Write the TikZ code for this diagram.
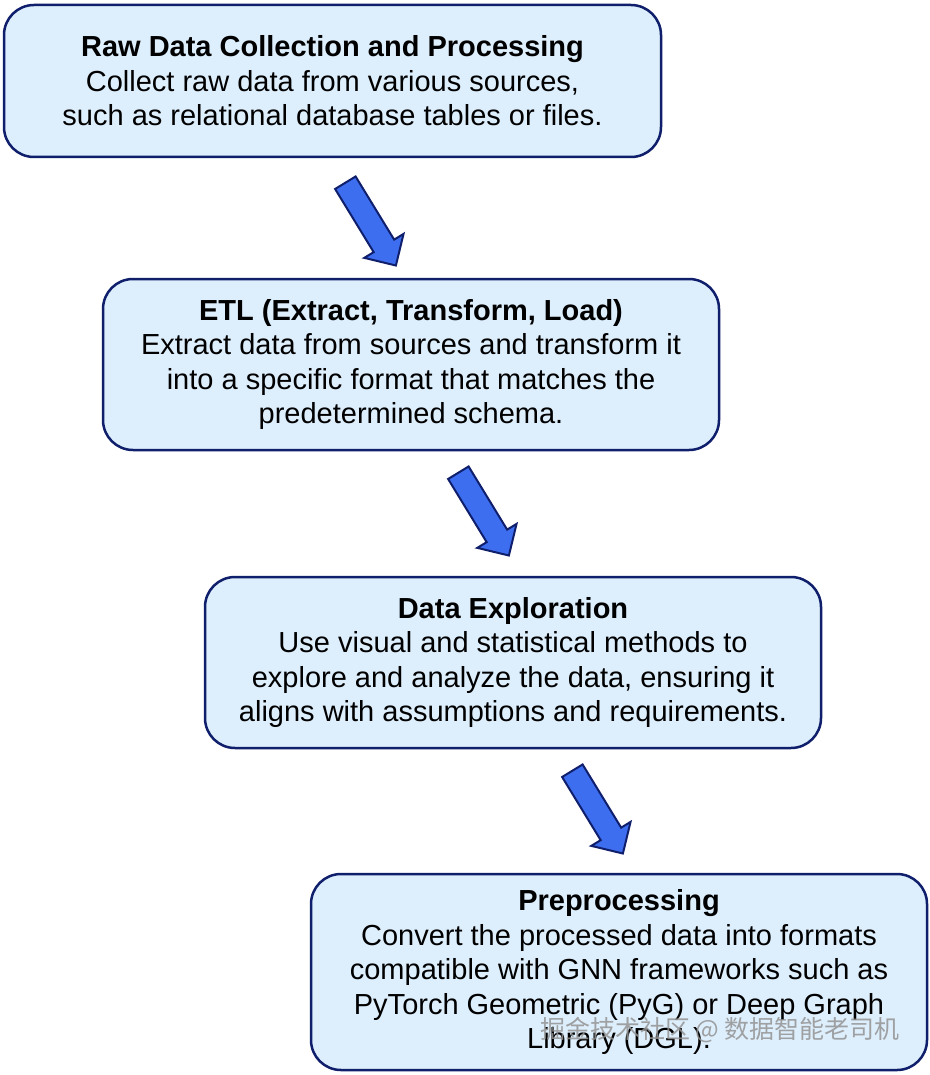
\documentclass[tikz,border=0pt]{standalone}
\usepackage{fontspec}
\setmainfont{Liberation Sans}
\newfontfamily\cjkfont{Noto Sans CJK SC}
\usetikzlibrary{shapes.arrows}
\definecolor{stepfill}{HTML}{DDEEFC}
\definecolor{stepline}{HTML}{0F1F6B}
\definecolor{flowblue}{HTML}{3D6EF0}
\tikzset{
  stepbox/.style={draw=stepline, fill=stepfill, line width=2.5pt, rounded corners=30pt,
    align=center, inner sep=0pt, font=\fontsize{29}{34.5}\selectfont},
  flowarrow/.style={single arrow, draw=stepline, fill=flowblue, line width=2pt,
    minimum height=97pt, single arrow head extend=11pt,
    single arrow head indent=0pt, inner xsep=0pt, inner ysep=11pt, rotate=-58.6}
}
\begin{document}
\begin{tikzpicture}[x=1pt, y=-1pt]
\useasboundingbox (0,0) rectangle (929,1075);
% Steps
\node[stepbox, minimum width=657pt, minimum height=152pt] (raw) at (332.5,81)
  {\textbf{Raw Data Collection and Processing}\\
   Collect raw data from various sources,\\
   such as relational database tables or files.};
\node[stepbox, minimum width=616pt, minimum height=171pt] (etl) at (411,364.5)
  {\textbf{ETL (Extract, Transform, Load)}\\
   Extract data from sources and transform it\\
   into a specific format that matches the\\
   predetermined schema.};
\node[stepbox, minimum width=616pt, minimum height=171pt] (explore) at (513,662.5)
  {\textbf{Data Exploration}\\
   Use visual and statistical methods to\\
   explore and analyze the data, ensuring it\\
   aligns with assumptions and requirements.};
\node[stepbox, minimum width=616pt, minimum height=196pt] (prep) at (619,972)
  {\textbf{Preprocessing}\\
   Convert the processed data into formats\\
   compatible with GNN frameworks such as\\
   PyTorch Geometric (PyG) or Deep Graph\\
   Library (DGL).};
% Block arrows between steps
\node[flowarrow] (arrA) at (367.5,219) {};
\node[flowarrow] (arrB) at (480.5,509) {};
\node[flowarrow] (arrC) at (594.5,807) {};
% Watermark
\node[text=gray!85, opacity=0.85, font=\cjkfont\fontsize{25}{30}\selectfont] (mark) at (720,1030)
  {掘金技术社区 @ 数据智能老司机};
\end{tikzpicture}
\end{document}
